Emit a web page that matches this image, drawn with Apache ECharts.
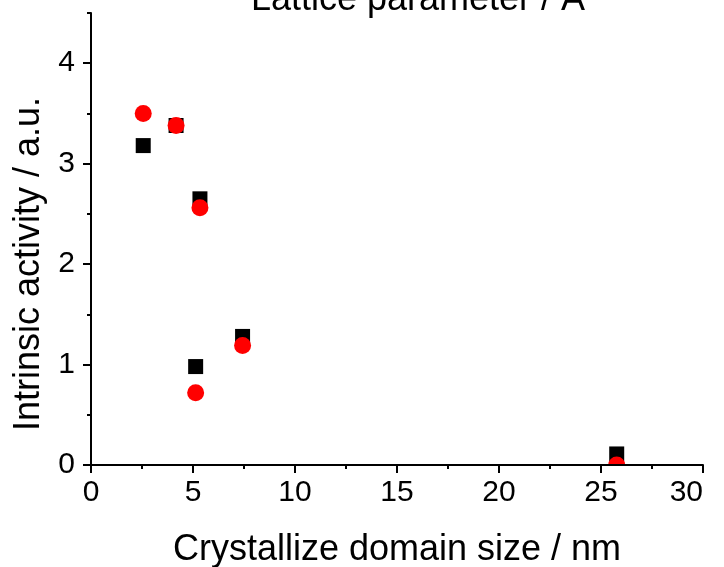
<!DOCTYPE html>
<html>
<head>
<meta charset="utf-8">
<script src="https://cdn.jsdelivr.net/npm/echarts@6/dist/echarts.min.js"></script>
<style>
  html, body { margin: 0; padding: 0; background: #fff; }
  #chart { width: 724px; height: 567px; }
</style>
</head>
<body>
<div id="chart"></div>
<script>
// Crystallite domain size (nm) of each sample
const domainSize = [2.56, 4.17, 5.34, 5.13, 7.43, 25.77];
// Intrinsic activity (a.u.), two measurement sets
const activitySquares = [3.18, 3.38, 2.65, 0.98, 1.28, 0.11];
const activityCircles = [3.50, 3.38, 2.56, 0.72, 1.19, 0.00];
// Axis ticks
const xTicks = [0, 5, 10, 15, 20, 25, 30];
const yTicks = [0, 1, 2, 3, 4];

const FONT = '"Liberation Sans", Arial, Helvetica, sans-serif';
const chart = echarts.init(document.getElementById('chart'), null, { renderer: 'canvas' });

const axisLine = { show: true, onZero: false, lineStyle: { color: '#000', width: 2 } };

chart.setOption({
  animation: false,
  backgroundColor: '#fff',
  grid: { left: 91, right: 21, top: 13, bottom: 102, containLabel: false, outerBoundsMode: 'none' },
  graphic: [
    {
      // covers the part of the markers falling below the plot frame
      type: 'rect', z: 5, silent: true,
      shape: { x: 0, y: 466, width: 724, height: 101 },
      style: { fill: '#fff' }
    },
    {
      type: 'text', z: 20, x: 418, y: 18,
      style: {
        text: 'Lattice parameter / Å', font: '36px ' + FONT, fill: '#000',
        textAlign: 'center', textVerticalAlign: 'bottom'
      }
    }
  ],
  xAxis: {
    type: 'value', min: xTicks[0], max: xTicks[xTicks.length - 1], interval: 5, z: 10,
    axisLine: axisLine,
    axisTick: { show: true, inside: false, length: 8, lineStyle: { color: '#000', width: 2 } },
    minorTick: { show: true, splitNumber: 2, length: 4, lineStyle: { color: '#000', width: 2 } },
    splitLine: { show: false },
    axisLabel: { color: '#000', fontFamily: FONT, fontSize: 30, margin: 13, alignMaxLabel: 'right' },
    name: 'Crystallize domain size / nm', nameLocation: 'middle', nameGap: 67,
    nameTextStyle: { color: '#000', fontFamily: FONT, fontSize: 36 }
  },
  yAxis: [
    {
      type: 'value', min: 0, max: 4.5, interval: 1, z: 10,
      axisLine: axisLine,
      axisTick: { show: true, inside: false, length: 8, customValues: yTicks, lineStyle: { color: '#000', width: 2 } },
      splitLine: { show: false },
      axisLabel: { color: '#000', fontFamily: FONT, fontSize: 30, margin: 16, customValues: yTicks },
      name: 'Intrinsic activity / a.u.', nameLocation: 'middle', nameGap: 44, nameRotate: 90,
      nameTextStyle: { color: '#000', fontFamily: FONT, fontSize: 36, padding: [0, 50, 0, 0] }
    },
    {
      // half-unit minor ticks along the left frame
      type: 'value', min: 0, max: 4.5, interval: 0.5, position: 'left', z: 10,
      axisLine: { show: false, onZero: false },
      axisTick: { show: true, inside: false, length: 4, lineStyle: { color: '#000', width: 2 } },
      axisLabel: { show: false },
      splitLine: { show: false }
    }
  ],
  series: [
    {
      type: 'scatter', z: 2, yAxisIndex: 0,
      symbol: 'rect', symbolSize: 15,
      itemStyle: { color: '#000', opacity: 1 },
      data: domainSize.map((x, i) => [x, activitySquares[i]])
    },
    {
      type: 'scatter', z: 3, yAxisIndex: 0,
      symbol: 'circle', symbolSize: 17,
      itemStyle: { color: '#ff0000', opacity: 1 },
      data: domainSize.map((x, i) => [x, activityCircles[i]])
    }
  ]
});
</script>
</body>
</html>
